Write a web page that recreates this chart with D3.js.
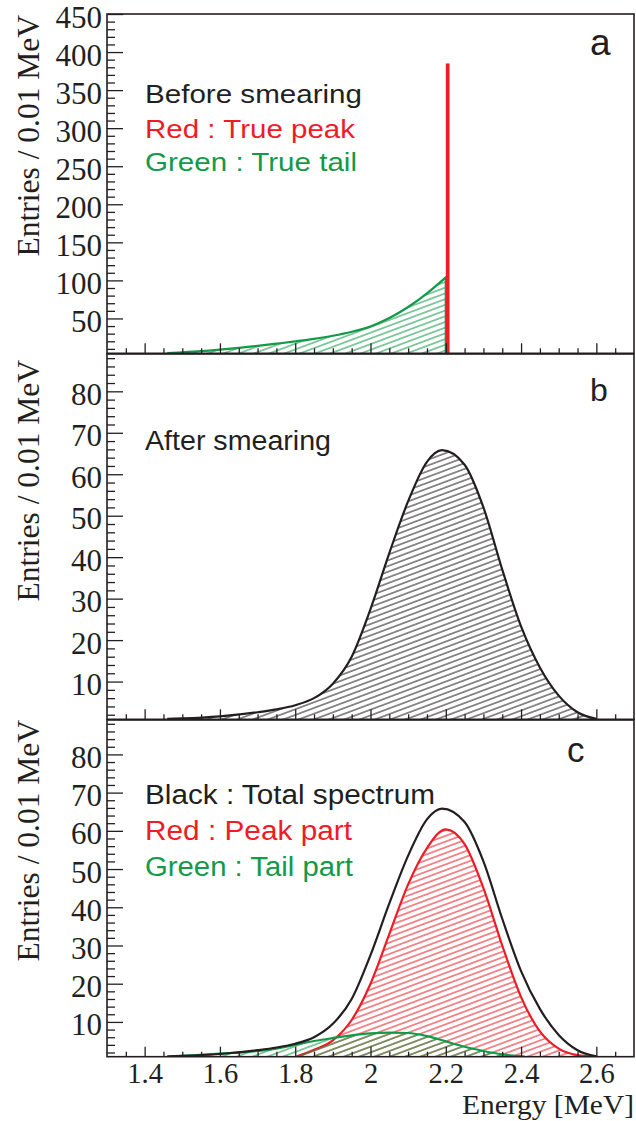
<!DOCTYPE html>
<html><head><meta charset="utf-8">
<script src="https://cdn.jsdelivr.net/npm/d3@7"></script>
<style>body{margin:0;background:#fff} svg{display:block}</style>
</head><body><svg id="chart" width="636" height="1121"></svg>
<script>
// ---------- data ----------
const xDomain = [1.3, 2.7];
const xTicksMajor = [1.4, 1.6, 1.8, 2.0, 2.2, 2.4, 2.6];
const xTickLabels = ["1.4", "1.6", "1.8", "2", "2.2", "2.4", "2.6"];
const yTicksA = [50, 100, 150, 200, 250, 300, 350, 400, 450];
const yTicksBC = [10, 20, 30, 40, 50, 60, 70, 80];

// Panel a : before smearing
const eTailTrue = [1.46, 1.50, 1.55, 1.60, 1.65, 1.70, 1.75, 1.80, 1.85, 1.90, 1.95, 2.00, 2.05, 2.10, 2.15, 2.20];
const tailTrue  = [4.5, 5.5, 7.0, 9.0, 11.3, 14.0, 16.8, 19.8, 23.2, 27.3, 32.5, 39.5, 50.5, 65, 83, 104];
const peakTrueBin = [2.20, 2.21];
const peakTrue = 385;

// Panel b / c : after smearing, total spectrum
const eTotal = [1.46, 1.50, 1.60, 1.70, 1.75, 1.80, 1.85, 1.90, 1.95, 2.00, 2.05, 2.10, 2.15, 2.19, 2.25, 2.30, 2.35, 2.40, 2.45, 2.50, 2.55, 2.60];
const total  = [1.0, 1.1, 1.6, 2.6, 3.3, 4.3, 6.0, 9.5, 16, 27.5, 41, 53.5, 63, 65.8, 62.3, 52, 37, 23.3, 13.4, 6.6, 2.6, 1.0];

// Panel c : peak part
const ePeak = [1.80, 1.85, 1.90, 1.95, 2.00, 2.05, 2.10, 2.15, 2.20, 2.25, 2.30, 2.35, 2.40, 2.45, 2.50, 2.55, 2.60];
const peakPart = [0.8, 2.7, 5.2, 10.5, 20, 33, 46, 55.5, 60.4, 56.5, 45, 30, 16.5, 7.5, 3.0, 1.3, 0.9];

// Panel c : tail part
const eTail = [1.47, 1.50, 1.60, 1.70, 1.75, 1.80, 1.85, 1.90, 1.95, 2.00, 2.05, 2.10, 2.15, 2.20, 2.25, 2.30, 2.35, 2.41];
const tailPart = [0.9, 1.1, 1.7, 2.4, 3.0, 4.0, 5.0, 5.8, 6.5, 7.0, 7.2, 7.1, 6.3, 4.9, 3.5, 2.4, 1.5, 0.9];

const legendA = [
  {text: "Before smearing", color: "#231f20", len: 217},
  {text: "Red : True peak", color: "#ee1c25", len: 210},
  {text: "Green : True tail", color: "#129a48", len: 212}
];
const legendB = [{text: "After smearing", color: "#231f20", len: 186}];
const legendC = [
  {text: "Black : Total spectrum", color: "#231f20", len: 290},
  {text: "Red : Peak part", color: "#ee1c25", len: 207},
  {text: "Green : Tail part", color: "#129a48", len: 208}
];

// ---------- layout ----------
const RED = "#ee1c25", GREEN = "#129a48", BLACK = "#231f20";
const svg = d3.select("#chart");
const X0 = 107, X1 = 634;
const x = d3.scaleLinear().domain(xDomain).range([X0, X1]);
const serif = "'Liberation Serif','Times New Roman',Times,serif";
const sans = "'Liberation Sans',Arial,Helvetica,sans-serif";

// hatch patterns
const defs = svg.append("defs");
function hatch(id, color) {
  const p = defs.append("pattern").attr("id", id).attr("patternUnits", "userSpaceOnUse")
    .attr("width", 20).attr("height", 5.35).attr("patternTransform", "rotate(-20.5)");
  p.append("line").attr("x1", 0).attr("x2", 20).attr("y1", 2.7).attr("y2", 2.7)
    .attr("stroke", color).attr("stroke-width", 1);
}
hatch("hGreen", GREEN); hatch("hBlack", BLACK); hatch("hRed", RED);

const panels = [
  {id: "a", top: 14, bottom: 353.3, dom: [4.2, 450], major: yTicksA, step: 10, letter: "a",
   letterX: 590, letterY: 55, letterFs: 37, labelEnd: 15, legend: legendA, legendY: [103.3, 137.5, 170.5], legendFs: 26, last: false},
  {id: "b", top: 354, bottom: 719.3, dom: [0.9, 89], major: yTicksBC, step: 2, letter: "b",
   letterX: 590, letterY: 401, letterFs: 32, labelEnd: 360, legend: legendB, legendY: [450], legendFs: 27, last: false},
  {id: "c", top: 720, bottom: 1056.7, dom: [0.9, 89], major: yTicksBC, step: 2, letter: "c",
   letterX: 567, letterY: 761.7, letterFs: 35, labelEnd: 720, legend: legendC, legendY: [804.3, 840, 875.7], legendFs: 27, last: true}
];

panels.forEach(P => {
  const y = d3.scaleLinear().domain(P.dom).range([P.bottom, P.top]);
  P.y = y;
  const g = svg.append("g");
  defs.append("clipPath").attr("id", "clip" + P.id).append("rect")
    .attr("x", X0).attr("y", P.top).attr("width", X1 - X0).attr("height", P.bottom - P.top);
  const plot = g.append("g").attr("clip-path", `url(#clip${P.id})`);
  P.plot = plot;

  // y axis major
  const yAx = d3.axisLeft(y).tickValues(P.major).tickSizeInner(-16).tickSizeOuter(0).tickPadding(5);
  const ya = g.append("g").attr("transform", `translate(${X0},0)`).call(yAx);
  ya.select(".domain").remove();
  ya.selectAll(".tick line").attr("stroke", BLACK).attr("stroke-width", 1.3);
  ya.selectAll(".tick text").attr("font-family", serif).attr("font-size", 31).attr("fill", BLACK).attr("dy", "0.42em");
  // y axis minor
  const minor = d3.range(Math.ceil(P.dom[0] / P.step) * P.step, P.dom[1] + 1e-9, P.step)
    .filter(v => !P.major.some(m => Math.abs(m - v) < 1e-9));
  const yAxm = d3.axisLeft(y).tickValues(minor).tickSizeInner(-8).tickSizeOuter(0).tickFormat("");
  const ym = g.append("g").attr("transform", `translate(${X0},0)`).call(yAxm);
  ym.select(".domain").remove();
  ym.selectAll(".tick line").attr("stroke", BLACK).attr("stroke-width", 1.3);

  // x axis
  const xAx = d3.axisBottom(x).tickValues(xTicksMajor).tickSizeInner(-10).tickSizeOuter(0).tickPadding(6)
    .tickFormat((d, i) => P.last ? xTickLabels[i] : "");
  const xa = g.append("g").attr("transform", `translate(0,${P.bottom})`).call(xAx);
  xa.select(".domain").remove();
  xa.selectAll(".tick line").attr("stroke", BLACK).attr("stroke-width", 1.3);
  xa.selectAll(".tick text").attr("font-family", serif).attr("font-size", 28.5).attr("fill", BLACK);
  const xMinor = d3.range(1.35, 2.7, 0.05).filter(v => !xTicksMajor.some(m => Math.abs(m - v) < 1e-6));
  const xAxm = d3.axisBottom(x).tickValues(xMinor).tickSizeInner(-5).tickSizeOuter(0).tickFormat("");
  const xm = g.append("g").attr("transform", `translate(0,${P.bottom})`).call(xAxm);
  xm.select(".domain").remove();
  xm.selectAll(".tick line").attr("stroke", BLACK).attr("stroke-width", 1.3);

  // y title
  g.append("text").attr("transform", `translate(38.5,${P.labelEnd}) rotate(-90)`)
    .attr("text-anchor", "end").attr("font-family", serif).attr("font-size", 31.5).attr("fill", BLACK)
    .text("Entries / 0.01 MeV");

  // legend
  P.legend.forEach((L, i) => {
    g.append("text").attr("x", 145).attr("y", P.legendY[i]).attr("font-family", sans)
      .attr("font-size", P.legendFs).attr("fill", L.color)
      .attr("textLength", L.len).attr("lengthAdjust", "spacingAndGlyphs").text(L.text);
  });
  // panel letter
  g.append("text").attr("x", P.letterX).attr("y", P.letterY).attr("font-family", sans)
    .attr("font-size", P.letterFs).attr("fill", BLACK).text(P.letter);
});

function curve(plot, y, es, vs, color, fillId, extraDrop) {
  const pts = es.map((e, i) => [e, vs[i]]);
  const y0 = y.range()[0] + 2;
  const area = d3.area().x(d => x(d[0])).y0(y0).y1(d => y(d[1])).curve(d3.curveMonotoneX);
  if (fillId) plot.append("path").datum(pts).attr("d", area).attr("fill", `url(#${fillId})`);
  const line = d3.line().x(d => x(d[0])).y(d => y(d[1])).curve(d3.curveMonotoneX);
  let d = line(pts);
  if (extraDrop) d += `L${x(es[es.length - 1])},${y0}`;
  plot.append("path").attr("d", d).attr("fill", "none").attr("stroke", color).attr("stroke-width", 2.2);
}

// panel a
const A = panels[0];
curve(A.plot, A.y, eTailTrue, tailTrue, GREEN, "hGreen", true);
A.plot.append("rect").attr("x", x(peakTrueBin[0])).attr("width", x(peakTrueBin[1]) - x(peakTrueBin[0]))
  .attr("y", A.y(peakTrue)).attr("height", A.bottom - A.y(peakTrue)).attr("fill", RED);

// panel b
const B = panels[1];
curve(B.plot, B.y, eTotal, total, BLACK, "hBlack", false);

// panel c
const C = panels[2];
curve(C.plot, C.y, ePeak, peakPart, RED, "hRed", false);
curve(C.plot, C.y, eTail, tailPart, GREEN, "hGreen", false);
curve(C.plot, C.y, eTotal, total, BLACK, null, false);

// frames
panels.forEach(P => {
  svg.append("rect").attr("x", X0).attr("y", P.top).attr("width", X1 - X0).attr("height", P.bottom - P.top)
    .attr("fill", "none").attr("stroke", BLACK).attr("stroke-width", 1.6);
});

// x title
svg.append("text").attr("x", 634).attr("y", 1114).attr("text-anchor", "end")
  .attr("font-family", serif).attr("font-size", 27).attr("fill", BLACK)
  .attr("textLength", 172).attr("lengthAdjust", "spacingAndGlyphs").text("Energy [MeV]");
</script>
</body></html>
